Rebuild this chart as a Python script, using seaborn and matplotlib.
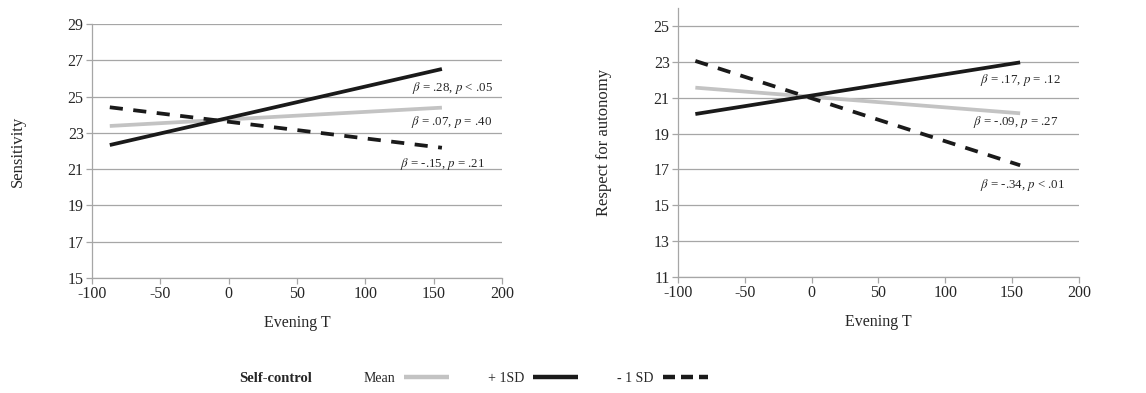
import matplotlib.pyplot as plt
import numpy as np
import pandas as pd
import seaborn as sns
from matplotlib.lines import Line2D

# Simple slopes: Evening T at low / high end
evening_t = [-87, 156]
groups = ["Mean", "+ 1SD", "- 1 SD"]

sens_mean = [23.38, 24.39]
sens_high = [22.33, 26.52]
sens_low = [24.41, 22.18]

auto_mean = [21.56, 20.13]
auto_high = [20.09, 22.97]
auto_low = [23.05, 17.23]

sens_notes = ["β = .28, p < .05", "β = .07, p = .40", "β = -.15, p = .21"]
sens_note_pos = [(193, 25.47), (193, 23.62), (187.5, 21.28)]
auto_notes = ["β = .17, p = .12", "β = -.09, p = .27", "β = -.34, p < .01"]
auto_note_pos = [(186.5, 21.99), (185, 19.66), (189.5, 16.13)]

x_ticks = [-100, -50, 0, 50, 100, 150, 200]


def long_frame(mean, high, low):
    rows = []
    for name, vals in zip(groups, [mean, high, low]):
        for x, y in zip(evening_t, vals):
            rows.append({"Evening T": x, "value": y, "group": name})
    return pd.DataFrame(rows)


sns.set_theme(style="white")
plt.rcParams["font.family"] = ["Liberation Serif", "DejaVu Serif"]
plt.rcParams["mathtext.fontset"] = "stix"
plt.rcParams["axes.unicode_minus"] = False

grid_c = "#a6a6a6"
text_c = "#262626"
palette = {"Mean": "#c3c3c3", "+ 1SD": "#1a1a1a", "- 1 SD": "#1a1a1a"}
dash_pat = (3.5, 2.8)
dashes = {"Mean": "", "+ 1SD": "", "- 1 SD": dash_pat}

fig = plt.figure(figsize=(11.46, 3.93), dpi=100)
ax1 = fig.add_axes([0.0803, 0.2926, 0.3578, 0.6463])
ax2 = fig.add_axes([0.5916, 0.2952, 0.3499, 0.6843])

panels = [
    (ax1, long_frame(sens_mean, sens_high, sens_low), "Sensitivity", (15, 29),
     np.arange(15, 30, 2), sens_notes, sens_note_pos),
    (ax2, long_frame(auto_mean, auto_high, auto_low), "Respect for autonomy", (11, 26),
     np.arange(11, 26, 2), auto_notes, auto_note_pos),
]

for ax, df, ylab, ylim, yticks, notes, note_pos in panels:
    sns.lineplot(
        data=df, x="Evening T", y="value", hue="group", style="group",
        palette=palette, dashes=dashes, linewidth=2.7, legend=False, ax=ax,
    )
    for line in ax.get_lines():
        line.set_solid_capstyle("butt")
        line.set_dash_capstyle("butt")
    ax.set_xlim(-100, 200)
    ax.set_ylim(*ylim)
    ax.set_xticks(x_ticks)
    ax.set_yticks(yticks)
    ax.yaxis.grid(True, color=grid_c, linewidth=0.9)
    ax.set_axisbelow(True)
    for side in ["top", "right"]:
        ax.spines[side].set_visible(False)
    for side in ["left", "bottom"]:
        ax.spines[side].set_color(grid_c)
        ax.spines[side].set_linewidth(0.9)
    ax.tick_params(axis="both", which="both", length=4, width=0.9, color=grid_c,
                   labelsize=11.5, labelcolor=text_c, pad=2,
                   left=True, bottom=True)
    ax.set_xlabel("Evening T", fontsize=11.5, color=text_c, labelpad=9)
    ax.set_ylabel(ylab, fontsize=12, color=text_c, labelpad=30)
    for note, (nx, ny) in zip(notes, note_pos):
        beta, p = note.split(", ")
        txt = r"$\beta$" + beta[1:] + ", " + r"$p$" + p[1:]
        ax.text(nx, ny, txt, ha="right", va="center", fontsize=9.3, color=text_c)

# Legend row
fig.text(0.2085, 0.038, "Self-control", fontsize=10.5, fontweight="bold",
         color=text_c, va="center")
handles = [
    Line2D([], [], color=palette["Mean"], linewidth=3.2, solid_capstyle="butt"),
    Line2D([], [], color=palette["+ 1SD"], linewidth=3.2, solid_capstyle="butt"),
    Line2D([], [], color=palette["- 1 SD"], linewidth=3.2, linestyle=(0, (2.7, 1.35)),
           dash_capstyle="butt"),
]
fig.legend(handles, groups, loc="center left", bbox_to_anchor=(0.3168, 0.038),
           ncol=3, frameon=False, markerfirst=False, fontsize=10,
           handlelength=3.25, handletextpad=0.65, columnspacing=2.8,
           labelcolor=text_c, borderpad=0, borderaxespad=0)

fig.savefig("out.png", dpi=100)
